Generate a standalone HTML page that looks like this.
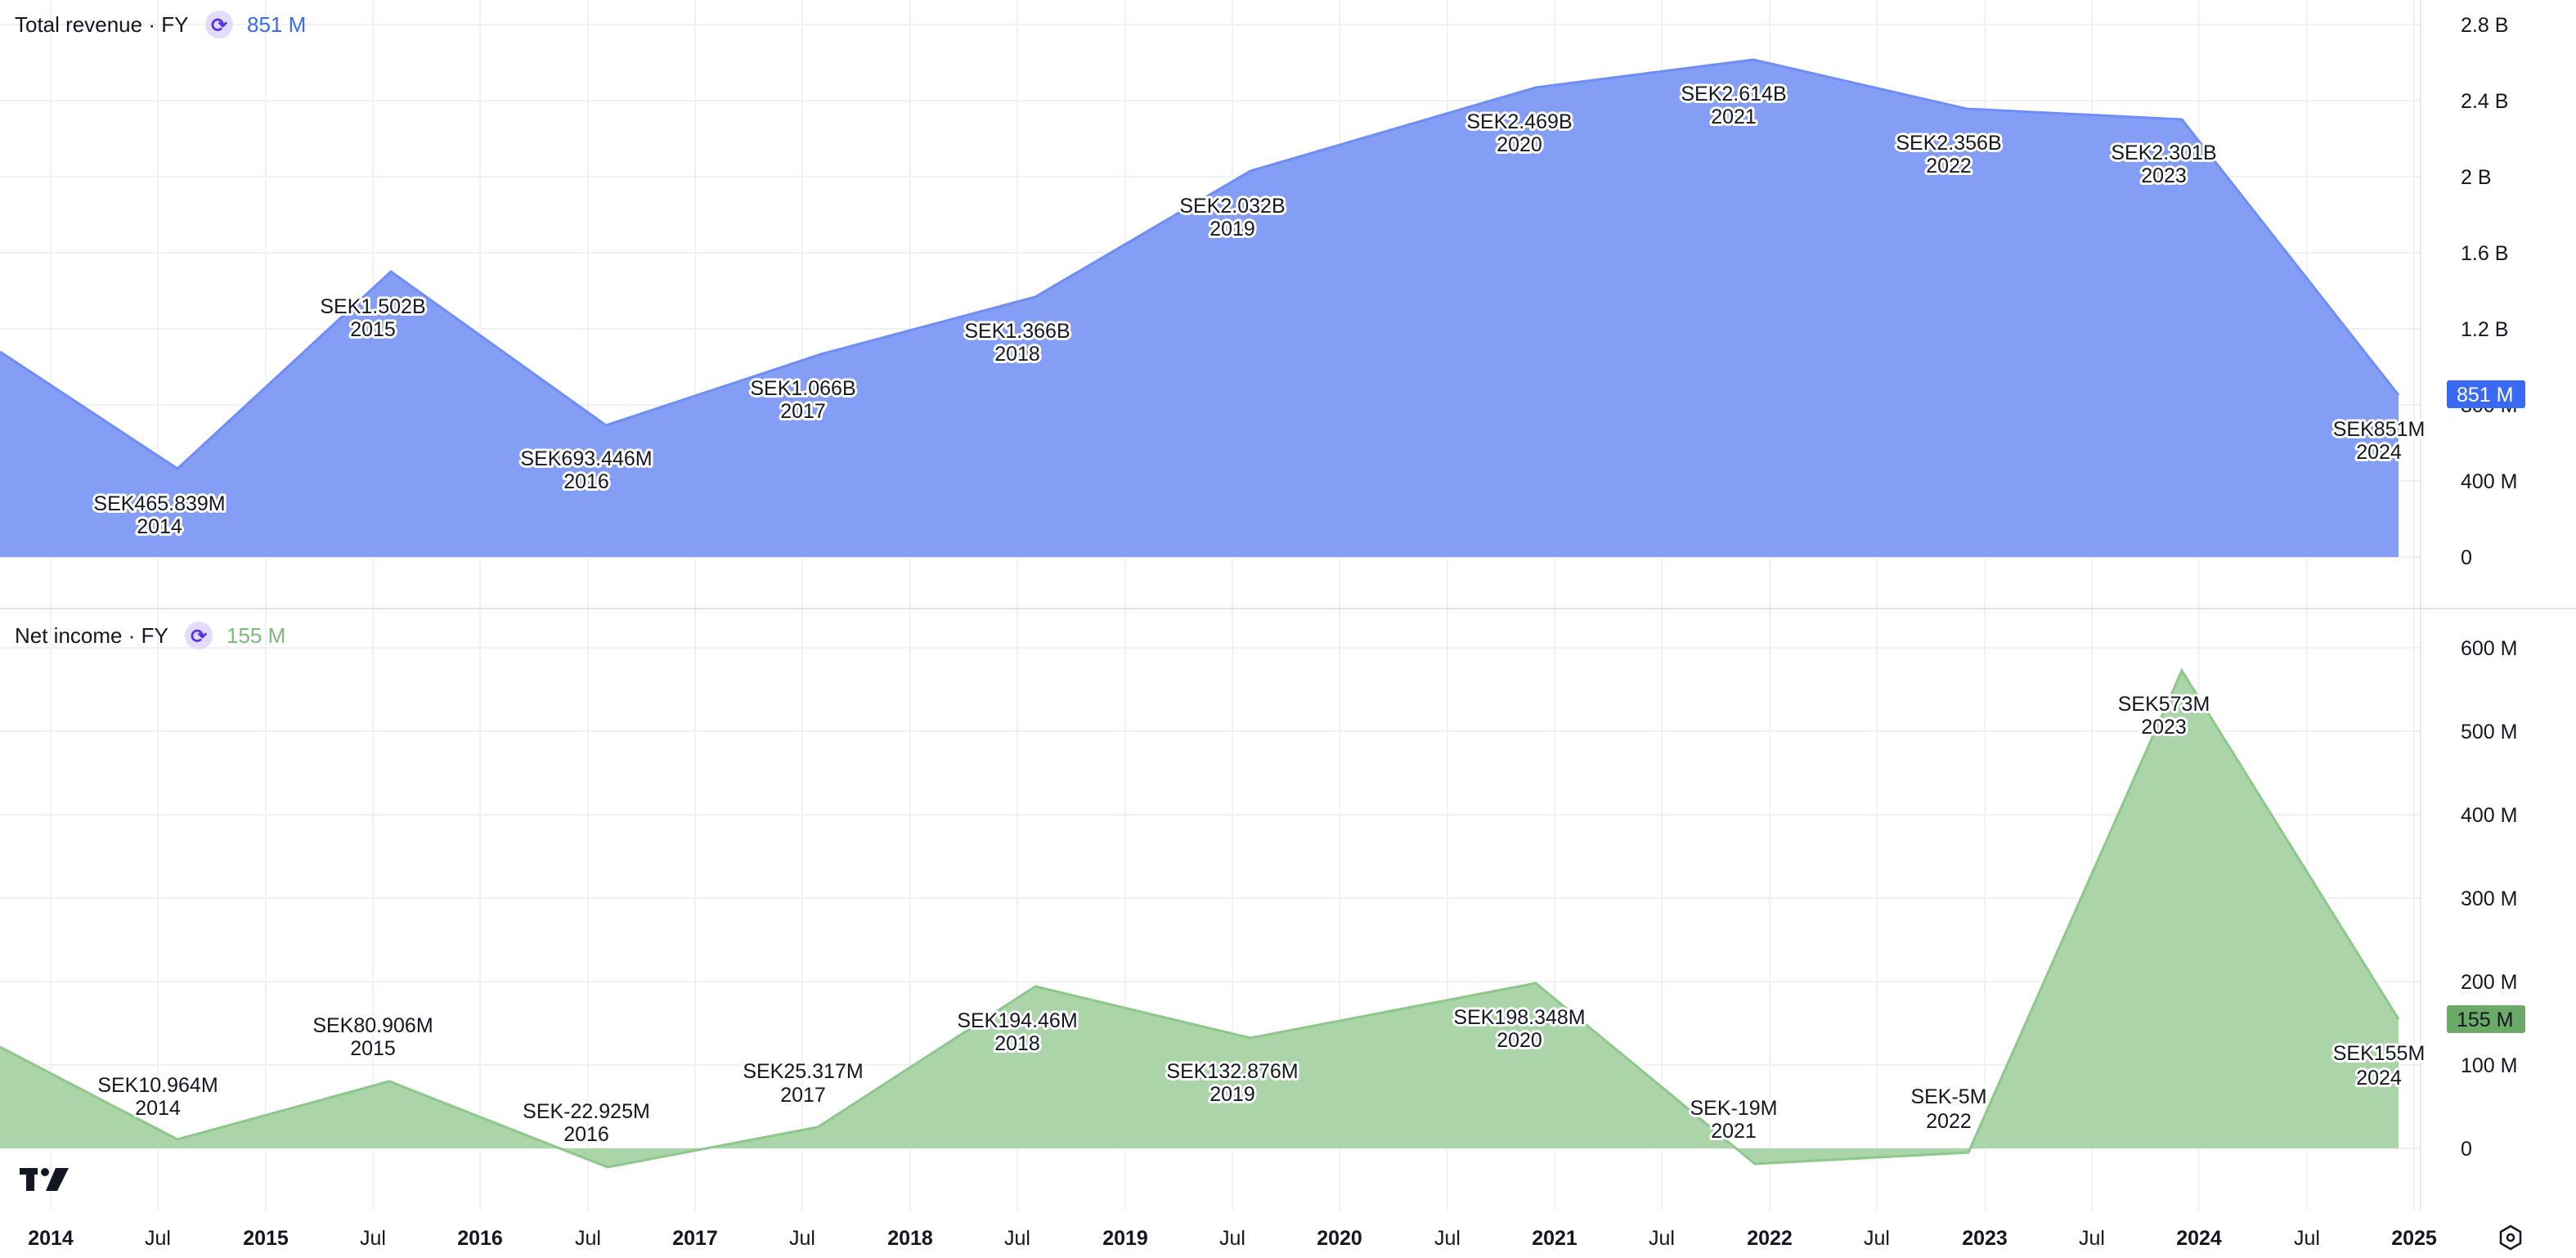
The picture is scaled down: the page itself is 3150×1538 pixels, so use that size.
<!DOCTYPE html>
<html><head><meta charset="utf-8"><style>
html,body{margin:0;padding:0;background:#fff;}
svg{display:block;font-family:"Liberation Sans",sans-serif;}
.lb{font-size:25px;fill:#131722;text-anchor:middle;paint-order:stroke;stroke:#fff;stroke-width:6px;stroke-linejoin:round;}
.ax{font-size:25px;fill:#131722;}
.xt{font-size:25px;fill:#131722;text-anchor:middle;font-weight:bold;}
.xj{font-size:25px;fill:#131722;text-anchor:middle;}
</style></head><body>
<svg width="3150" height="1538" viewBox="0 0 3150 1538">
<g stroke="#f0f1f3" stroke-width="2">
<line x1="62" y1="0" x2="62" y2="1480"/><line x1="193" y1="0" x2="193" y2="1480"/><line x1="325" y1="0" x2="325" y2="1480"/><line x1="456" y1="0" x2="456" y2="1480"/><line x1="587" y1="0" x2="587" y2="1480"/><line x1="719" y1="0" x2="719" y2="1480"/><line x1="850" y1="0" x2="850" y2="1480"/><line x1="981" y1="0" x2="981" y2="1480"/><line x1="1113" y1="0" x2="1113" y2="1480"/><line x1="1244" y1="0" x2="1244" y2="1480"/><line x1="1376" y1="0" x2="1376" y2="1480"/><line x1="1507" y1="0" x2="1507" y2="1480"/><line x1="1638" y1="0" x2="1638" y2="1480"/><line x1="1770" y1="0" x2="1770" y2="1480"/><line x1="1901" y1="0" x2="1901" y2="1480"/><line x1="2032" y1="0" x2="2032" y2="1480"/><line x1="2164" y1="0" x2="2164" y2="1480"/><line x1="2295" y1="0" x2="2295" y2="1480"/><line x1="2427" y1="0" x2="2427" y2="1480"/><line x1="2558" y1="0" x2="2558" y2="1480"/><line x1="2689" y1="0" x2="2689" y2="1480"/><line x1="2821" y1="0" x2="2821" y2="1480"/><line x1="2952" y1="0" x2="2952" y2="1480"/>
<line x1="0" y1="30" x2="2960" y2="30"/><line x1="0" y1="123" x2="2960" y2="123"/><line x1="0" y1="216" x2="2960" y2="216"/><line x1="0" y1="309" x2="2960" y2="309"/><line x1="0" y1="402" x2="2960" y2="402"/><line x1="0" y1="495" x2="2960" y2="495"/><line x1="0" y1="588" x2="2960" y2="588"/><line x1="0" y1="681" x2="2960" y2="681"/>
<line x1="0" y1="792" x2="2960" y2="792"/><line x1="0" y1="894" x2="2960" y2="894"/><line x1="0" y1="996" x2="2960" y2="996"/><line x1="0" y1="1098" x2="2960" y2="1098"/><line x1="0" y1="1200" x2="2960" y2="1200"/><line x1="0" y1="1302" x2="2960" y2="1302"/><line x1="0" y1="1404" x2="2960" y2="1404"/>
</g>
<line x1="2960" y1="0" x2="2960" y2="1480" stroke="#e8e9ec" stroke-width="2"/>
<line x1="0" y1="744" x2="3150" y2="744" stroke="#e0e3eb" stroke-width="2"/>
<!-- revenue -->
<polygon fill="#859ef5" points="0,430 217,573 478,332 741,520 1004,433 1266,363 1529,209 1878,107 2144,73 2405,133 2668,146 2933,483 2933,681 0,681"/>
<polyline fill="none" stroke="#6f8df7" stroke-width="3" points="0,430 217,573 478,332 741,520 1004,433 1266,363 1529,209 1878,107 2144,73 2405,133 2668,146 2933,483"/>
<!-- net income -->
<polygon fill="#acd4a9" points="0,1280 217,1393 476,1322 743,1427 1000,1378 1266,1206 1529,1269 1878,1202 2146,1423 2407,1409 2668,820 2933,1246 2933,1404 0,1404"/>
<polyline fill="none" stroke="#8cc88a" stroke-width="3" points="0,1280 217,1393 476,1322 743,1427 1000,1378 1266,1206 1529,1269 1878,1202 2146,1423 2407,1409 2668,820 2933,1246"/>
<g class="lb">
<text x="195" y="624">SEK465.839M</text><text x="195" y="652">2014</text>
<text x="456" y="383">SEK1.502B</text><text x="456" y="411">2015</text>
<text x="717" y="569">SEK693.446M</text><text x="717" y="597">2016</text>
<text x="982" y="483">SEK1.066B</text><text x="982" y="511">2017</text>
<text x="1244" y="413">SEK1.366B</text><text x="1244" y="441">2018</text>
<text x="1507" y="260">SEK2.032B</text><text x="1507" y="288">2019</text>
<text x="1858" y="157">SEK2.469B</text><text x="1858" y="185">2020</text>
<text x="2120" y="123">SEK2.614B</text><text x="2120" y="151">2021</text>
<text x="2383" y="183">SEK2.356B</text><text x="2383" y="211">2022</text>
<text x="2646" y="195">SEK2.301B</text><text x="2646" y="223">2023</text>
<text x="2909" y="533">SEK851M</text><text x="2909" y="561">2024</text>
<text x="193" y="1335">SEK10.964M</text><text x="193" y="1363">2014</text>
<text x="456" y="1262">SEK80.906M</text><text x="456" y="1290">2015</text>
<text x="717" y="1367">SEK-22.925M</text><text x="717" y="1395">2016</text>
<text x="982" y="1318">SEK25.317M</text><text x="982" y="1347">2017</text>
<text x="1244" y="1256">SEK194.46M</text><text x="1244" y="1284">2018</text>
<text x="1507" y="1318">SEK132.876M</text><text x="1507" y="1346">2019</text>
<text x="1858" y="1252">SEK198.348M</text><text x="1858" y="1280">2020</text>
<text x="2120" y="1363">SEK-19M</text><text x="2120" y="1391">2021</text>
<text x="2383" y="1349">SEK-5M</text><text x="2383" y="1379">2022</text>
<text x="2646" y="869">SEK573M</text><text x="2646" y="897">2023</text>
<text x="2909" y="1296">SEK155M</text><text x="2909" y="1326">2024</text>
</g>
<!-- right axis -->
<g class="ax">
<text x="3009" y="39">2.8 B</text><text x="3009" y="132">2.4 B</text><text x="3009" y="225">2 B</text><text x="3009" y="318">1.6 B</text><text x="3009" y="411">1.2 B</text><text x="3009" y="504">800 M</text><text x="3009" y="597">400 M</text><text x="3009" y="690">0</text>
<text x="3009" y="801">600 M</text><text x="3009" y="903">500 M</text><text x="3009" y="1005">400 M</text><text x="3009" y="1107">300 M</text><text x="3009" y="1209">200 M</text><text x="3009" y="1311">100 M</text><text x="3009" y="1413">0</text>
</g>
<rect x="2992" y="465" width="96" height="34" rx="3" fill="#3a6af3"/>
<text x="3004" y="491" style="font-size:25px;fill:#fff">851 M</text>
<rect x="2992" y="1229" width="96" height="34" rx="3" fill="#6caa68"/>
<text x="3004" y="1255" style="font-size:25px;fill:#131722">155 M</text>
<!-- titles -->
<text x="18" y="39" style="font-size:26px;fill:#131722">Total revenue · FY</text>
<circle cx="268" cy="30" r="17" fill="#e4dcff"/>
<text x="268" y="39" style="font-size:24px;fill:#5b34e8;text-anchor:middle;font-weight:bold">⟳</text>
<text x="302" y="39" style="font-size:26px;fill:#3a6af3">851 M</text>
<text x="18" y="786" style="font-size:26px;fill:#131722">Net income · FY</text>
<circle cx="243" cy="777" r="17" fill="#e4dcff"/>
<text x="243" y="786" style="font-size:24px;fill:#5b34e8;text-anchor:middle;font-weight:bold">⟳</text>
<text x="277" y="786" style="font-size:26px;fill:#7cbb78">155 M</text>
<!-- logo -->
<g fill="#131722"><rect x="24" y="1428" width="22" height="8"/><rect x="32" y="1428" width="10" height="28"/><circle cx="55" cy="1433" r="5"/><polygon points="68,1428 84,1428 70,1456 56,1456"/></g>
<!-- x axis -->
<g>
<text class="xt" x="62" y="1522">2014</text><text class="xj" x="193" y="1522">Jul</text>
<text class="xt" x="325" y="1522">2015</text><text class="xj" x="456" y="1522">Jul</text>
<text class="xt" x="587" y="1522">2016</text><text class="xj" x="719" y="1522">Jul</text>
<text class="xt" x="850" y="1522">2017</text><text class="xj" x="981" y="1522">Jul</text>
<text class="xt" x="1113" y="1522">2018</text><text class="xj" x="1244" y="1522">Jul</text>
<text class="xt" x="1376" y="1522">2019</text><text class="xj" x="1507" y="1522">Jul</text>
<text class="xt" x="1638" y="1522">2020</text><text class="xj" x="1770" y="1522">Jul</text>
<text class="xt" x="1901" y="1522">2021</text><text class="xj" x="2032" y="1522">Jul</text>
<text class="xt" x="2164" y="1522">2022</text><text class="xj" x="2295" y="1522">Jul</text>
<text class="xt" x="2427" y="1522">2023</text><text class="xj" x="2558" y="1522">Jul</text>
<text class="xt" x="2689" y="1522">2024</text><text class="xj" x="2821" y="1522">Jul</text>
<text class="xt" x="2952" y="1522">2025</text>
</g>
<polygon points="3070,1499 3082,1506 3082,1520 3070,1527 3058,1520 3058,1506" fill="none" stroke="#131722" stroke-width="2.5"/>
<circle cx="3070" cy="1513" r="4" fill="none" stroke="#131722" stroke-width="2.5"/>
</svg>
</body></html>
